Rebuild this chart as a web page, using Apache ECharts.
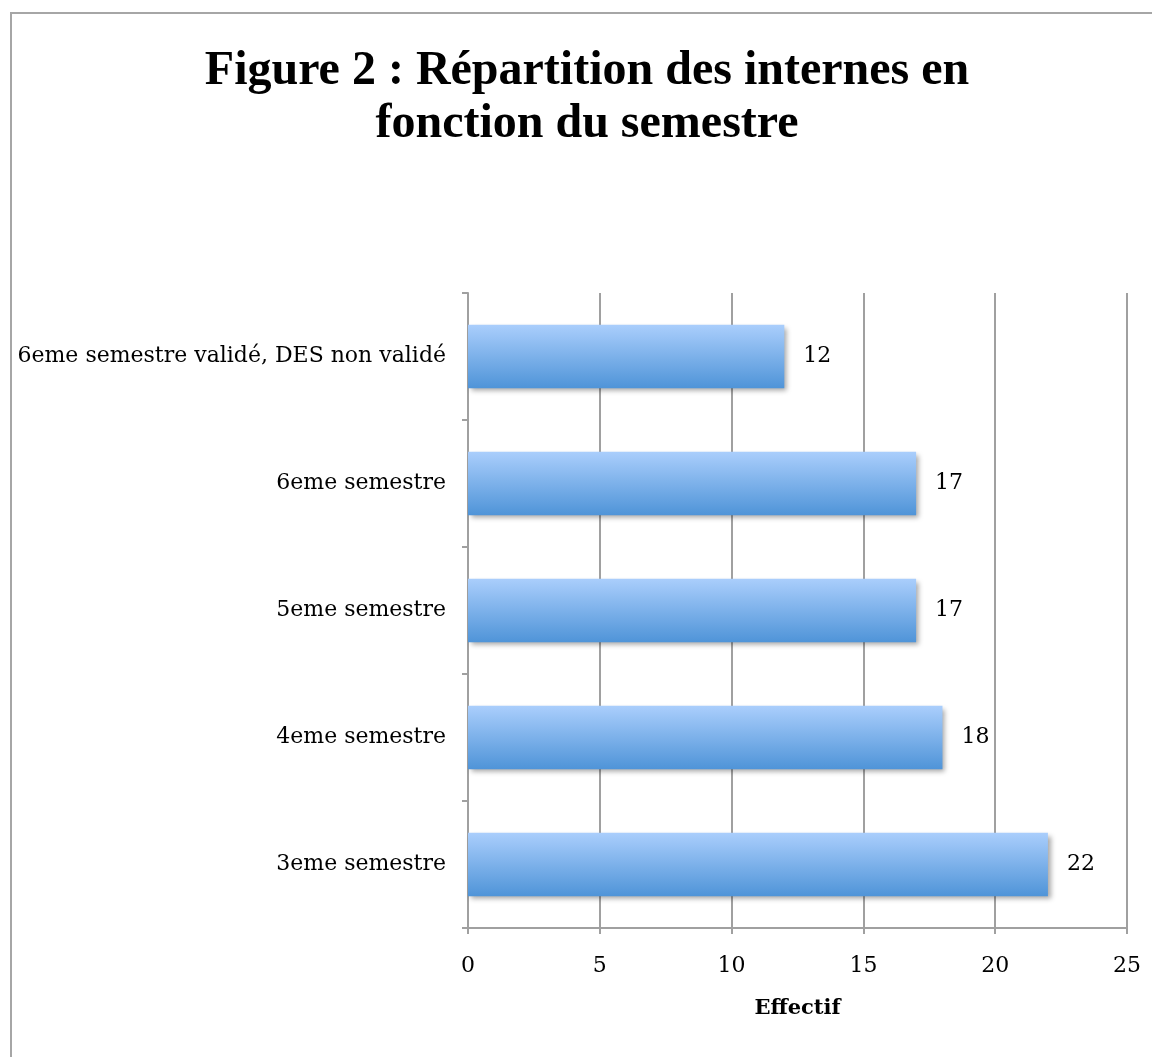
<!DOCTYPE html>
<html>
<head>
<meta charset="utf-8">
<script src="https://cdn.jsdelivr.net/npm/echarts@6/dist/echarts.min.js"></script>
<style>
  html, body { margin: 0; padding: 0; background: #fff; }
  #chart { width: 1152px; height: 1057px; }
</style>
</head>
<body>
<div id="chart"></div>
<script>
// données (du bas vers le haut)
var categories = ['3eme semestre', '4eme semestre', '5eme semestre', '6eme semestre', '6eme semestre validé, DES non validé'];
var effectifs = [22, 18, 17, 17, 12];
var xTicks = [0, 5, 10, 15, 20, 25];

var titleFont = '"Liberation Serif", "Times New Roman", serif';
var labelFont = '"DejaVu Serif", "Liberation Serif", serif';
var myChart = echarts.init(document.getElementById('chart'));
var option = {
  backgroundColor: '#fff',
  animation: false,
  graphic: [
    {
      type: 'rect',
      shape: { x: 11, y: 13, width: 1200, height: 1100 },
      style: { fill: 'none', stroke: '#a6a6a6', lineWidth: 2 }
    },
    {
      type: 'text',
      x: 587,
      y: 45,
      style: {
        text: 'Figure 2 : Répartition des internes en\nfonction du semestre',
        font: 'bold 48px ' + titleFont,
        fill: '#000',
        align: 'center',
        verticalAlign: 'top',
        lineHeight: 53
      }
    }
  ],
  grid: { left: 468, right: 25, top: 293, bottom: 129 },
  xAxis: {
    type: 'value',
    min: xTicks[0],
    max: xTicks[xTicks.length - 1],
    interval: 5,
    name: 'Effectif',
    nameLocation: 'middle',
    nameGap: 70,
    nameTextStyle: { fontFamily: labelFont, fontWeight: 'bold', fontSize: 21, color: '#000' },
    axisLine: { show: true, lineStyle: { color: '#a0a0a0', width: 2 } },
    axisTick: { show: true, length: 6, lineStyle: { color: '#a0a0a0', width: 2 } },
    axisLabel: { fontFamily: labelFont, fontSize: 22, color: '#000', margin: 27 },
    splitLine: { show: true, lineStyle: { color: '#a0a0a0', width: 2 } }
  },
  yAxis: {
    type: 'category',
    data: categories,
    axisLine: { show: true, lineStyle: { color: '#a0a0a0', width: 2 } },
    axisTick: { show: true, length: 6, lineStyle: { color: '#a0a0a0', width: 2 } },
    axisLabel: { fontFamily: labelFont, fontSize: 22, color: '#000', margin: 22 }
  },
  series: [{
    type: 'bar',
    data: effectifs,
    barWidth: '50%',
    itemStyle: {
      color: new echarts.graphic.LinearGradient(0, 0, 0, 1, [
        { offset: 0, color: '#aacefc' },
        { offset: 1, color: '#4f94d8' }
      ]),
      shadowColor: 'rgba(0,0,0,0.35)',
      shadowBlur: 5,
      shadowOffsetX: 3,
      shadowOffsetY: 3
    },
    label: {
      show: true,
      position: 'right',
      distance: 19,
      fontFamily: labelFont,
      fontSize: 22,
      color: '#000'
    }
  }]
};
myChart.setOption(option);
</script>
</body>
</html>
